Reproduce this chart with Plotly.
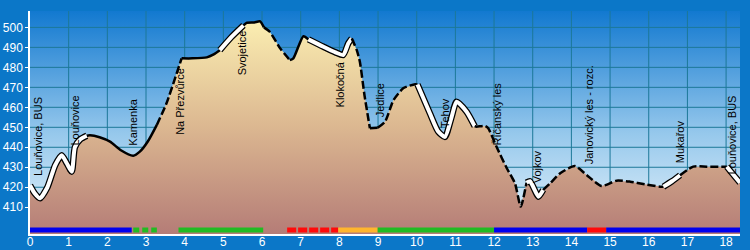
import plotly.graph_objects as go

# ---- profile data (km, elevation m) ----
DIST = [0.00, 0.12, 0.26, 0.45, 0.65, 0.82, 0.95, 1.08, 1.16, 1.30, 1.47,
        1.55, 1.80, 2.07, 2.35, 2.67, 2.84, 3.05, 3.28, 3.53, 3.75, 3.92,
        4.20, 4.57, 4.75, 4.91, 5.20, 5.52, 5.60, 5.80, 5.95, 6.05, 6.20,
        6.47, 6.72, 6.81, 7.07, 7.20, 7.59, 7.90, 8.10, 8.23, 8.32, 8.45,
        8.53, 8.65, 8.79, 8.99, 9.18, 9.40, 9.65, 9.96, 10.02, 10.34, 10.55,
        10.73, 10.90, 11.03, 11.29, 11.50, 11.55, 11.77, 11.85, 12.07, 12.33,
        12.54, 12.69, 12.84, 12.93, 13.15, 13.27, 13.45, 13.71, 14.09, 14.40,
        14.78, 15.17, 15.52, 15.90, 16.29, 16.38, 16.60, 16.81, 17.15, 17.50,
        18.02, 18.20, 18.36]
ELEV = [421.0, 417.0, 414.5, 420.0, 431.0, 436.0, 432.0, 427.8, 440.0, 444.0, 445.8,
        446.0, 445.0, 442.8, 438.5, 435.8, 437.8, 443.0, 451.2, 462.0, 474.5, 484.5,
        484.5, 485.0, 486.5, 488.6, 495.0, 501.0, 502.3, 502.5, 503.0, 500.0, 497.8,
        489.5, 483.6, 484.5, 495.6, 494.0, 490.3, 487.5, 486.2, 492.0, 494.5, 488.6,
        482.8, 466.0, 449.5, 449.8, 452.8, 463.6, 469.5, 471.6, 471.4, 457.0, 448.0,
        445.2, 455.0, 462.8, 457.8, 450.5, 450.3, 450.7, 449.5, 440.0, 429.5,
        422.0, 410.3, 422.3, 423.0, 415.3, 418.7, 422.0, 427.0, 430.6, 426.0,
        420.6, 423.3, 422.8, 421.5, 420.3, 420.3, 423.0, 426.0, 430.3, 430.3,
        430.3, 426.0, 422.3]

# line style sections along the profile (start km, end km, style)
SEG_START = [0.00, 1.47, 3.28, 3.92, 4.91, 5.52, 6.05, 6.72, 7.20, 8.32, 8.79,
             8.99, 10.02, 11.50, 12.84, 13.27, 16.38, 16.81, 18.02]
SEG_END = [1.47, 3.28, 3.92, 4.91, 5.52, 6.05, 6.72, 7.20, 8.32, 8.79, 8.99,
           10.02, 11.50, 12.84, 13.27, 16.38, 16.81, 18.02, 18.36]
SEG_STYLE = ["white", "solid", "dash", "solid", "white", "solid", "dash", "solid",
             "white", "dash", "solid", "dash", "white", "dash", "white", "dash",
             "white", "dash", "white"]

# waypoint labels
LABELS = ["Louňovice, BUS", "Louňovice", "Kamenka", "Na Přezvůrce", "Svojetice",
          "Klokočná", "Jedlice", "Tehov", "Říčanský les", "Vojkov",
          "Janovický les - rozc.", "Mukařov", "Louňovice, BUS"]
LABEL_KM = [0.19, 1.17, 2.67, 3.88, 5.47, 8.02, 9.05, 10.73, 12.07, 13.10,
            14.46, 16.81, 18.15]
LABEL_ELEV = [424.6, 440.0, 439.7, 445.0, 475.0, 459.0, 454.0, 448.6, 440.0,
              421.0, 430.3, 430.8, 425.6]

# route marking bar (start km, end km, colour, dash)
BAR_START = [0.00, 2.67, 3.84, 6.65, 7.97, 8.99, 12.00, 14.41, 14.90]
BAR_END = [2.63, 3.28, 6.03, 7.97, 8.99, 12.00, 14.41, 14.90, 18.40]
BAR_COLOR = ["#0000ee", "#22bb22", "#22bb22", "#ff0a0a", "#ffb52e", "#22bb22",
             "#0000ee", "#ff0a0a", "#0000ee"]
BAR_DASH = ["solid", "6px,3px", "solid", "9px,2px", "solid", "solid", "solid",
            "solid", "solid"]

X_TICKS = list(range(0, 19))
Y_TICKS = list(range(410, 501, 10))
X_RANGE = [0, 18.36]
Y_RANGE = [396.6, 508.2]
BAR_Y = 398.6

TICK_FONT = dict(family="Liberation Sans, Arial", size=12, color="white")

fig = go.Figure()

# sky gradient background
fig.add_trace(go.Scatter(
    x=[X_RANGE[0], X_RANGE[1], X_RANGE[1], X_RANGE[0], X_RANGE[0]],
    y=[Y_RANGE[0], Y_RANGE[0], Y_RANGE[1], Y_RANGE[1], Y_RANGE[0]],
    mode="lines", line=dict(width=0), fill="toself",
    fillgradient=dict(type="vertical", start=Y_RANGE[0], stop=Y_RANGE[1],
                      colorscale=[[0, "#e8f4fb"], [0.45, "#96c8ec"], [1, "#1279d0"]]),
    hoverinfo="skip", showlegend=False))

# grid lines
gx, gy = [], []
for k in X_TICKS[1:]:
    gx += [k, k, None]
    gy += [Y_RANGE[0], Y_RANGE[1], None]
for e in Y_TICKS:
    gx += [X_RANGE[0], X_RANGE[1], None]
    gy += [e, e, None]
fig.add_trace(go.Scatter(x=gx, y=gy, mode="lines",
                         line=dict(color="#1c7898", width=1),
                         hoverinfo="skip", showlegend=False))

# terrain fill
fig.add_trace(go.Scatter(
    x=DIST, y=ELEV, mode="lines", line=dict(width=0), fill="tozeroy",
    fillgradient=dict(type="vertical", start=397, stop=505,
                      colorscale=[[0, "#b57d77"], [0.5, "#dcb891"], [1, "#fcf0b2"]]),
    hoverinfo="skip", showlegend=False))

# profile line sections
for a, b, st in zip(SEG_START, SEG_END, SEG_STYLE):
    xs = [d for d in DIST if a - 1e-6 <= d <= b + 1e-6]
    ys = [e for d, e in zip(DIST, ELEV) if a - 1e-6 <= d <= b + 1e-6]
    if st == "white":
        fig.add_trace(go.Scatter(x=xs, y=ys, mode="lines",
                                 line=dict(color="black", width=6.5, shape="spline", smoothing=0.6),
                                 hoverinfo="skip", showlegend=False))
        fig.add_trace(go.Scatter(x=xs, y=ys, mode="lines",
                                 line=dict(color="white", width=4, shape="spline", smoothing=0.6),
                                 hoverinfo="skip", showlegend=False))
    else:
        fig.add_trace(go.Scatter(x=xs, y=ys, mode="lines",
                                 line=dict(color="black", width=2.5,
                                           dash="solid" if st == "solid" else "8px,3px",
                                           shape="spline", smoothing=0.6),
                                 hoverinfo="skip", showlegend=False))

# route bar
for a, b, c, dsh in zip(BAR_START, BAR_END, BAR_COLOR, BAR_DASH):
    fig.add_trace(go.Scatter(x=[a, b], y=[BAR_Y, BAR_Y], mode="lines",
                             line=dict(color=c, width=5, dash=dsh),
                             hoverinfo="skip", showlegend=False))

for t, k, e in zip(LABELS, LABEL_KM, LABEL_ELEV):
    fig.add_annotation(x=k, y=e, text=t, showarrow=False, textangle=-90,
                       xanchor="center", yanchor="bottom",
                       font=dict(family="Liberation Sans, Arial", size=11, color="black"))

fig.update_layout(
    width=750, height=250,
    margin=dict(l=30, r=10, t=11, b=16),
    paper_bgcolor="#0b77c8", plot_bgcolor="#0b77c8",
    showlegend=False, hovermode=False,
    font=dict(family="Liberation Sans, Arial", size=12, color="white"),
)
fig.update_xaxes(range=X_RANGE, tickvals=X_TICKS, showgrid=False, zeroline=False,
                 automargin=False,
                 showline=True, linecolor="white", linewidth=1.5,
                 ticks="", ticklabelstandoff=-4,
                 tickfont=TICK_FONT)
fig.update_yaxes(range=Y_RANGE, tickvals=Y_TICKS, showgrid=False, zeroline=False,
                 automargin=False,
                 showline=True, linecolor="white", linewidth=1.5,
                 ticks="outside", ticklen=3, tickcolor="white",
                 tickfont=TICK_FONT)

fig.write_html("out.html", config={"displayModeBar": False})
